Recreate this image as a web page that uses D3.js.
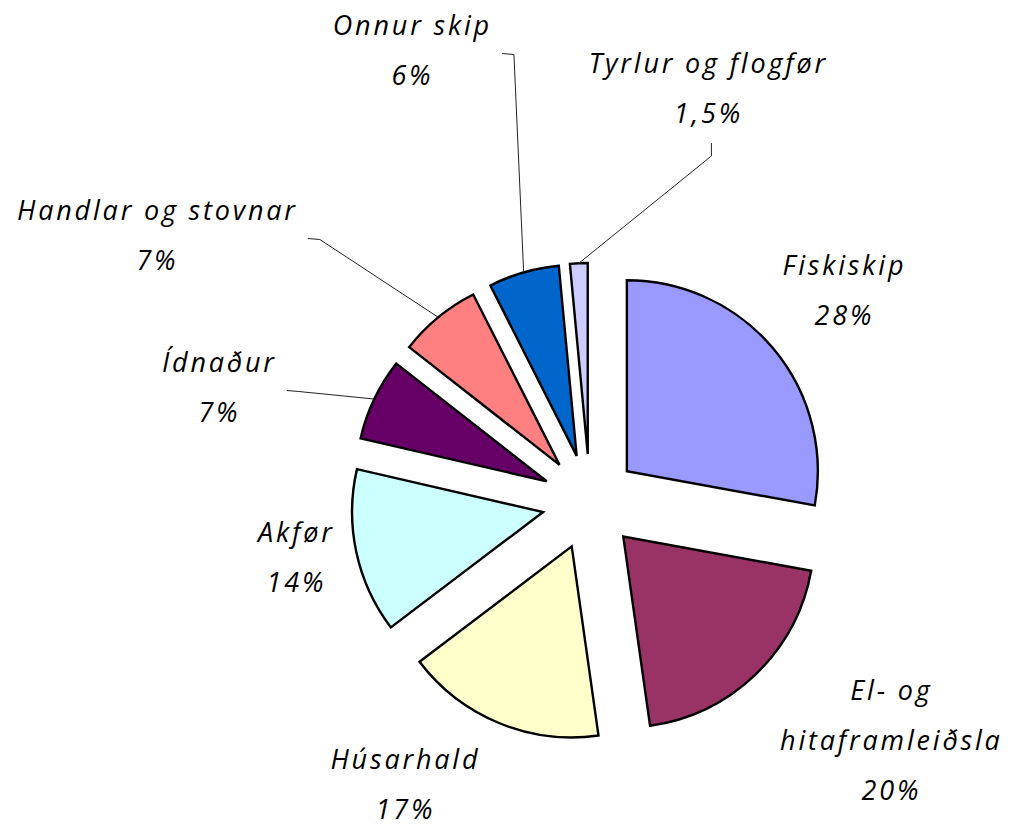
<!DOCTYPE html>
<html>
<head>
<meta charset="utf-8">
<script src="https://cdn.jsdelivr.net/npm/d3@7"></script>
<style>
  body { margin: 0; background: #fff; }
  .lbl { font-family: "Open Sans", Lato, sans-serif; font-style: italic; font-size: 27px; letter-spacing: 2.8px; fill: #000; }
</style>
</head>
<body>
<div id="chart"></div>
<script>
// data, clockwise from 12 o'clock
let categories = ["Fiskiskip", "El- og\nhitaframleiðsla", "Húsarhald", "Akfør", "Ídnaður", "Handlar og stovnar", "Onnur skip", "Tyrlur og flogfør"]
let shares = [28, 20, 17, 14, 7, 7, 6, 1.5]
let colors = ["#9999ff", "#993366", "#ffffcc", "#ccffff", "#660066", "#ff8080", "#0066cc", "#ccccff"]

// where each label sits (centre x, first baseline y) - layout only
let labelPos = [[843, 275], [890, 700], [404, 769], [295, 542], [218, 372], [156, 220], [411, 35], [707, 73]]
let hasLeader = [false, false, false, false, true, true, true, true]

let width = 1012
let height = 828
let cx = 590
let cy = 502
let radius = 191
let explode = 48
let lineGap = 50

let svg = d3.select("#chart")
  .append("svg")
  .attr("width", width)
  .attr("height", height)

svg.append("rect").attr("width", width).attr("height", height).attr("fill", "#fff")

let pie = d3.pie().sort(null).value(d => d)
let arcs = pie(shares)

let arc = d3.arc().innerRadius(0).outerRadius(radius)

function dir(a){
  return [Math.sin(a), -Math.cos(a)]
}

let g = svg.append("g").attr("transform", `translate(${cx}, ${cy})`)

g.selectAll("path.slice")
  .data(arcs)
  .enter()
  .append("path")
  .attr("class", "slice")
  .attr("d", arc)
  .attr("transform", function(d){
    let m = (d.startAngle + d.endAngle) / 2
    let v = dir(m)
    return `translate(${v[0] * explode}, ${v[1] * explode})`
  })
  .attr("fill", (d, i) => colors[i])
  .attr("stroke", "#000")
  .attr("stroke-width", 2.4)
  .attr("stroke-linejoin", "miter")

// labels
let labels = svg.selectAll("g.label")
  .data(arcs)
  .enter()
  .append("g")
  .attr("class", "label")

labels.each(function(d, i){
  let lines = categories[i].split("\n")
  lines.push(String(shares[i]).replace(".", ",") + "%")
  let t = d3.select(this).append("text")
    .attr("class", "lbl")
    .attr("text-anchor", "middle")
  lines.forEach(function(s, k){
    t.append("tspan")
      .attr("x", labelPos[i][0] + 1.4)
      .attr("y", labelPos[i][1] + k * lineGap)
      .text(s)
  })
})

// leader lines from label box to the middle of the slice's outer arc
labels.each(function(d, i){
  if(!hasLeader[i]) return
  let box = this.getBBox()
  let m = (d.startAngle + d.endAngle) / 2
  let v = dir(m)
  let end = [cx + v[0] * (radius + explode), cy + v[1] * (radius + explode)]
  let pts
  if(end[0] > box.x + box.width){
    let y0 = box.y + box.height / 2 + 4
    let x0 = box.x + box.width + 10
    pts = [[x0, y0], [x0 + 12, y0 + 1], end]
  } else {
    let x0 = box.x + box.width / 2 + 3
    let y0 = box.y + box.height + 12
    pts = [[x0, y0], [x0, y0 + 13], end]
  }
  svg.append("path")
    .attr("d", d3.line()(pts))
    .attr("fill", "none")
    .attr("stroke", "#222")
    .attr("stroke-width", 1)
})
</script>
</body>
</html>
